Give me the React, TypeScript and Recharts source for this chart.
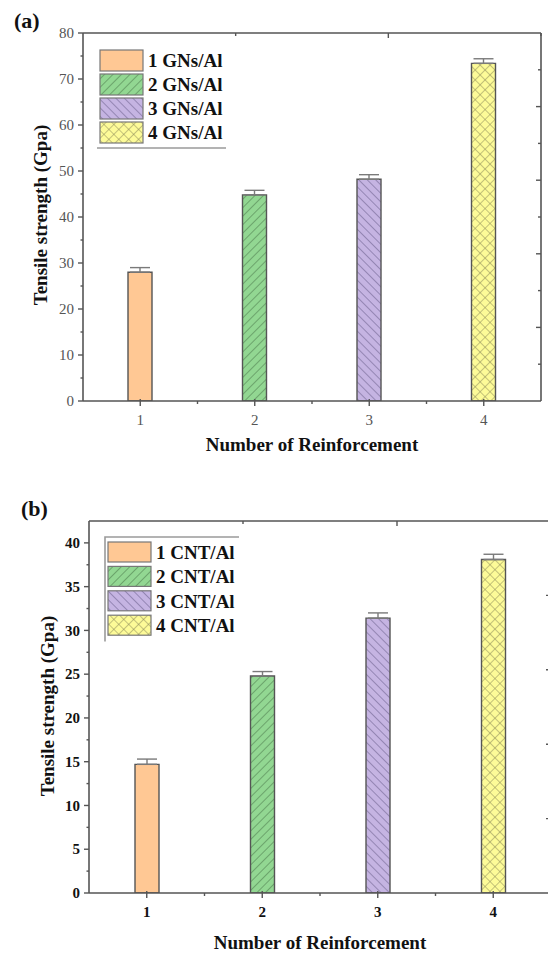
import React from 'react';
import { BarChart, Bar, XAxis, YAxis, Cell, ErrorBar } from 'recharts';

// ---- data ----
const reinforcement = [1, 2, 3, 4];

const gnsLabels = ['1 GNs/Al', '2 GNs/Al', '3 GNs/Al', '4 GNs/Al'];
const gnsStrength = [28.0, 44.8, 48.2, 73.4];
const gnsError = [1.0, 1.0, 1.0, 1.0];

const cntLabels = ['1 CNT/Al', '2 CNT/Al', '3 CNT/Al', '4 CNT/Al'];
const cntStrength = [14.7, 24.8, 31.4, 38.1];
const cntError = [0.6, 0.5, 0.6, 0.6];

const gnsYTicks = [0, 5, 10, 15, 20, 25, 30, 35, 40, 45, 50, 55, 60, 65, 70, 75, 80];
const cntYTicks = [0, 2.5, 5, 7.5, 10, 12.5, 15, 17.5, 20, 22.5, 25, 27.5, 30, 32.5, 35, 37.5, 40];
const xTicks = [1, 1.5, 2, 2.5, 3, 3.5, 4];
const frameTicks = [0, 1, 2, 3, 4, 5, 6, 7, 8, 9, 10];

// ---- styling ----
const FONT = '"Liberation Serif", "Times New Roman", serif';
const AXIS = '#555';
const fills = ['#FFC894', 'url(#hatchGreen)', 'url(#hatchPurple)', 'url(#crossYellow)'];

const Patterns = () => (
  <svg width={0} height={0} style={{ position: 'absolute' }}>
    <defs>
      <pattern id="hatchGreen" width={6} height={6} patternUnits="userSpaceOnUse" patternTransform="rotate(45)">
        <rect width={6} height={6} fill="#92D792" />
        <line x1={0} y1={0} x2={0} y2={6} stroke="#4d7a4d" strokeWidth={1.1} />
      </pattern>
      <pattern id="hatchPurple" width={6} height={6} patternUnits="userSpaceOnUse" patternTransform="rotate(-45)">
        <rect width={6} height={6} fill="#C5B4E2" />
        <line x1={0} y1={0} x2={0} y2={6} stroke="#6c5f8c" strokeWidth={1.1} />
      </pattern>
      <pattern id="crossYellow" width={7} height={7} patternUnits="userSpaceOnUse" patternTransform="rotate(45)">
        <rect width={7} height={7} fill="#FDFB98" />
        <line x1={0} y1={0} x2={0} y2={7} stroke="#8a8858" strokeWidth={1} />
        <line x1={0} y1={0} x2={7} y2={0} stroke="#8a8858" strokeWidth={1} />
      </pattern>
    </defs>
  </svg>
);

type Plot = { left: number; top: number; right: number; bottom: number };

type PanelProps = {
  top: number;
  width: number;
  height: number;
  plot: Plot;
  strength: number[];
  error: number[];
  yDomain: [number, number];
  yTicks: number[];
  yMajorStep: number;
  bold: boolean;
  labelColor: string;
};

const isMultiple = (v: number, step: number) => Math.abs(v / step - Math.round(v / step)) < 1e-6;

function Panel(p: PanelProps) {
  const data = reinforcement.map((n, i) => ({
    n,
    value: p.strength[i],
    err: [0, p.error[i]],
  }));
  const tickFont = {
    fontFamily: FONT,
    fontSize: 15,
    fontWeight: p.bold ? 700 : 400,
    fill: p.labelColor,
  };

  const leftTick = (t: any) => {
    const v = t.payload.value;
    const major = isMultiple(v, p.yMajorStep);
    return (
      <g>
        <line x1={t.x - (major ? 5 : 2.5)} x2={t.x} y1={t.y} y2={t.y} stroke={AXIS} strokeWidth={1.4} />
        {major && (
          <text x={t.x - 9} y={t.y} dy="0.35em" textAnchor="end" style={tickFont}>
            {v}
          </text>
        )}
      </g>
    );
  };

  const bottomTick = (t: any) => {
    const v = t.payload.value;
    const major = Number.isInteger(v);
    return (
      <g>
        <line x1={t.x} x2={t.x} y1={t.y - (major ? 2 : 0)} y2={t.y + (major ? 5 : 3)} stroke={AXIS} strokeWidth={1.4} />
        {major && (
          <text x={t.x} y={t.y + 24} textAnchor="middle" style={tickFont}>
            {v}
          </text>
        )}
      </g>
    );
  };

  const topTick = (t: any) => {
    const v = t.payload.value;
    if (v === 0 || v === 10) return <g />;
    const len = v % 2 === 0 ? 5 : 3;
    return <line x1={t.x} x2={t.x} y1={t.y} y2={t.y + len} stroke={AXIS} strokeWidth={1.4} />;
  };

  const rightTick = (t: any) => {
    const v = t.payload.value;
    if (v === 0 || v === 10) return <g />;
    const len = v % 2 === 0 ? 5 : 3;
    return <line x1={t.x - len} x2={t.x} y1={t.y} y2={t.y} stroke={AXIS} strokeWidth={1.4} />;
  };

  const axisLine = { stroke: AXIS, strokeWidth: 1.6 };

  return (
    <div style={{ position: 'absolute', left: 0, top: p.top, width: p.width, height: p.height }}>
      <BarChart
        width={p.width}
        height={p.height}
        data={data}
        margin={{ top: p.plot.top - 1, left: 0, right: p.width - p.plot.right - 1, bottom: 0 }}
      >
        <XAxis
          dataKey="n"
          type="number"
          domain={[0.5, 4.5]}
          ticks={xTicks}
          allowDataOverflow
          height={p.height - p.plot.bottom}
          tickSize={0}
          tickMargin={0}
          tickLine={false}
          axisLine={axisLine}
          tick={bottomTick}
          interval={0}
        />
        <XAxis
          xAxisId="frameTop"
          orientation="top"
          type="number"
          domain={[0, 10]}
          ticks={frameTicks}
          allowDataOverflow
          height={1}
          tickSize={0}
          tickMargin={0}
          tickLine={false}
          axisLine={axisLine}
          tick={topTick}
          interval={0}
        />
        <YAxis
          type="number"
          domain={p.yDomain}
          ticks={p.yTicks}
          allowDataOverflow
          width={p.plot.left}
          tickSize={0}
          tickMargin={0}
          tickLine={false}
          axisLine={axisLine}
          tick={leftTick}
          interval={0}
        />
        <YAxis
          yAxisId="frameRight"
          orientation="right"
          type="number"
          domain={[0, 10]}
          ticks={frameTicks}
          allowDataOverflow
          width={1}
          tickSize={0}
          tickMargin={0}
          tickLine={false}
          axisLine={axisLine}
          tick={rightTick}
          interval={0}
        />
        <Bar dataKey="value" barSize={24} stroke="#555" strokeWidth={1.4} isAnimationActive={false}>
          {data.map((d, i) => (
            <Cell key={d.n} fill={fills[i]} />
          ))}
          <ErrorBar dataKey="err" direction="y" width={10} stroke="#7a7a7a" strokeWidth={1.4} />
        </Bar>
      </BarChart>
    </div>
  );
}

type LegendProps = {
  labels: string[];
  x: number;
  y: number;
  rowGap: number;
  swatchH: number;
  frame: 'bottom' | 'topLeft';
};

function SeriesLegend({ labels, x, y, rowGap, swatchH, frame }: LegendProps) {
  const boxW = 43;
  const rows = labels.length;
  const fullW = 136;
  return (
    <g>
      {frame === 'bottom' ? (
        <line x1={x - 3} x2={x - 3 + fullW - 7} y1={y + rows * rowGap + 2} y2={y + rows * rowGap + 2} stroke="#9a9a9a" strokeWidth={1.6} />
      ) : (
        <path
          d={`M ${x - 3} ${y + rows * rowGap + 2} L ${x - 3} ${y - 5} L ${x - 3 + fullW - 2} ${y - 5}`}
          fill="none"
          stroke="#9a9a9a"
          strokeWidth={1.6}
        />
      )}
      {labels.map((lab, i) => (
        <g key={lab}>
          <rect x={x} y={y + i * rowGap} width={boxW} height={swatchH} fill={fills[i]} stroke="#777" strokeWidth={1.2} />
          <text
            x={x + boxW + 5}
            y={y + i * rowGap + swatchH / 2}
            dy="0.36em"
            style={{ fontFamily: FONT, fontSize: 19, fontWeight: 700, fill: '#111' }}
          >
            {lab}
          </text>
        </g>
      ))}
    </g>
  );
}

const titleStyle = { fontFamily: FONT, fontSize: 19, fontWeight: 700, fill: '#111' };
const panelLabelStyle = { fontFamily: FONT, fontSize: 22, fontWeight: 700, fill: '#111' };

export default function App() {
  return (
    <div style={{ position: 'absolute', left: 0, top: 0, width: 548, height: 954, overflow: 'hidden', background: '#fff' }}>
      <Patterns />
      <Panel
        top={0}
        width={548}
        height={470}
        plot={{ left: 83, top: 33, right: 541, bottom: 401 }}
        strength={gnsStrength}
        error={gnsError}
        yDomain={[0, 80]}
        yTicks={gnsYTicks}
        yMajorStep={10}
        bold={false}
        labelColor="#555"
      />
      <Panel
        top={470}
        width={560}
        height={484}
        plot={{ left: 89, top: 51, right: 551, bottom: 423 }}
        strength={cntStrength}
        error={cntError}
        yDomain={[0, 42.5]}
        yTicks={cntYTicks}
        yMajorStep={5}
        bold={true}
        labelColor="#111"
      />
      <svg width={548} height={954} style={{ position: 'absolute', left: 0, top: 0, pointerEvents: 'none' }}>
        <text x={14} y={28} style={panelLabelStyle}>(a)</text>
        <text x={21} y={516} style={panelLabelStyle}>(b)</text>

        <SeriesLegend labels={gnsLabels} x={100} y={50} rowGap={24} swatchH={21} frame="bottom" />
        <SeriesLegend labels={cntLabels} x={108} y={542} rowGap={24.4} swatchH={20} frame="topLeft" />

        <text x={312} y={444} dy="0.35em" textAnchor="middle" style={titleStyle}>Number of Reinforcement</text>
        <text x={320} y={942} dy="0.35em" textAnchor="middle" style={titleStyle}>Number of Reinforcement</text>

        <text x={40} y={215} dy="0.35em" textAnchor="middle" transform="rotate(-90 40 215)" style={titleStyle}>
          Tensile strength (Gpa)
        </text>
        <text x={47} y={706} dy="0.35em" textAnchor="middle" transform="rotate(-90 47 706)" style={titleStyle}>
          Tensile strength (Gpa)
        </text>
      </svg>
    </div>
  );
}
